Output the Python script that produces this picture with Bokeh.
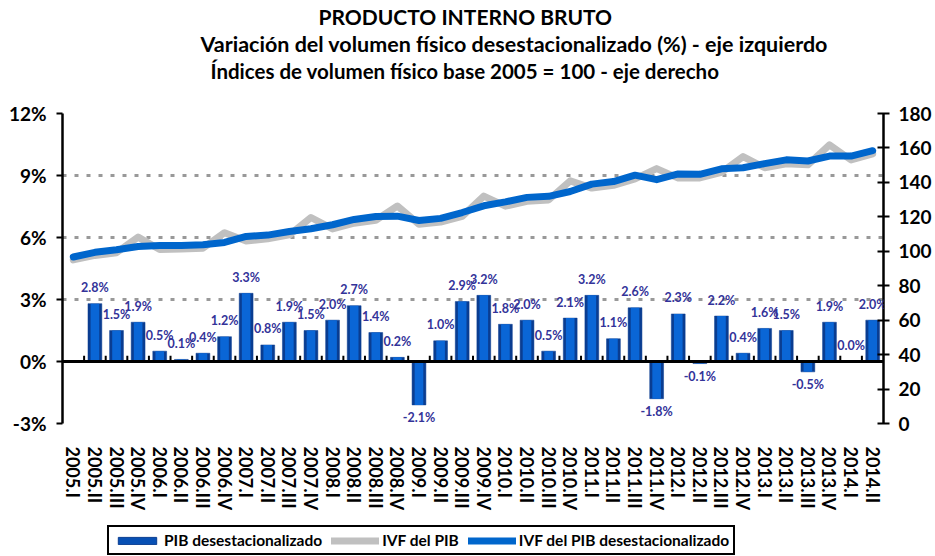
from bokeh.plotting import figure
from bokeh.layouts import column
from bokeh.models import (FactorRange, Range1d, LinearAxis, FixedTicker, PrintfTickFormatter,
                          Span, LabelSet, ColumnDataSource, Legend, LegendItem, Title)
from bokeh.core.properties import value
from bokeh.transform import dodge
from bokeh.embed import file_html
from bokeh.resources import INLINE

# ---------------- data ----------------
quarters = ["2005.I", "2005.II", "2005.III", "2005.IV",
            "2006.I", "2006.II", "2006.III", "2006.IV",
            "2007.I", "2007.II", "2007.III", "2007.IV",
            "2008.I", "2008.II", "2008.III", "2008.IV",
            "2009.I", "2009.II", "2009.III", "2009.IV",
            "2010.I", "2010.II", "2010.III", "2010.IV",
            "2011.I", "2011.II", "2011.III", "2011.IV",
            "2012.I", "2012.II", "2012.III", "2012.IV",
            "2013.I", "2013.II", "2013.III", "2013.IV",
            "2014.I", "2014.II"]

# quarter-on-quarter change of seasonally adjusted GDP (%), from 2005.II
var_quarters = quarters[1:]
pib_var = [2.8, 1.5, 1.9,
           0.5, 0.1, 0.4, 1.2,
           3.3, 0.8, 1.9, 1.5,
           2.0, 2.7, 1.4, 0.2,
           -2.1, 1.0, 2.9, 3.2,
           1.8, 2.0, 0.5, 2.1,
           3.2, 1.1, 2.6, -1.8,
           2.3, -0.1, 2.2, 0.4,
           1.6, 1.5, -0.5, 1.9,
           0.0, 2.0]

# IVF del PIB (original series, base 2005 = 100)
ivf = [95.0, 97.6, 99.2, 108.2,
       101.0, 101.3, 101.8, 110.8,
       106.0, 107.3, 109.5, 119.6,
       113.0, 116.3, 118.0, 126.3,
       115.7, 117.0, 120.3, 132.0,
       126.2, 129.0, 129.8, 140.9,
       136.7, 138.3, 142.0, 148.0,
       142.5, 142.6, 145.8, 155.0,
       148.5, 150.8, 150.2, 161.8,
       153.0, 156.6]

# IVF del PIB desestacionalizado
ivf_sa = [96.7, 99.4, 100.9, 102.8,
          103.3, 103.4, 103.8, 105.1,
          108.6, 109.4, 111.5, 113.1,
          115.4, 118.5, 120.2, 120.4,
          117.9, 119.1, 122.5, 126.4,
          128.7, 131.3, 131.9, 134.7,
          139.0, 140.5, 144.2, 141.6,
          144.9, 144.7, 147.9, 148.5,
          150.9, 153.1, 152.4, 155.3,
          155.3, 158.4]

left_ticks = [-3, 0, 3, 6, 9, 12]
right_ticks = [0, 20, 40, 60, 80, 100, 120, 140, 160, 180]

FONT = "Lato"
BAR_DARK = "#0a3d91"
BAR_LIGHT = "#0a66d6"
BAR_LEGEND = "#0850b4"
GREY = "#c0c0c0"
BLUE = "#0066cc"

# ---------------- main figure ----------------
p = figure(width=935, height=525,
           x_range=FactorRange(*quarters, range_padding=0),
           y_range=Range1d(-3, 12),
           output_backend="svg", toolbar_location=None,
           min_border_left=62, min_border_right=52, min_border_top=113,
           min_border_bottom=102)
p.outline_line_color = None
p.background_fill_color = "white"
p.border_fill_color = "white"

# titles (first added sits next to the frame, last added is outermost)
spacer = Title(text=" ", standoff=7, text_font=FONT, text_font_size="18px")
t3 = Title(text="Índices de volumen físico base 2005 = 100 - eje derecho", align="left",
           offset=148, standoff=0, text_font=FONT, text_font_size="20.5px",
           text_font_style="bold", text_color="black")
t2 = Title(text="Variación del volumen físico desestacionalizado (%) - eje izquierdo", align="left",
           offset=138, standoff=0, text_font=FONT, text_font_size="21.5px",
           text_font_style="bold", text_color="black")
t1 = Title(text="PRODUCTO INTERNO BRUTO", align="left",
           offset=256, standoff=0, text_font=FONT, text_font_size="21px",
           text_font_style="bold", text_color="black")
p.add_layout(spacer, "above")
p.add_layout(t3, "above")
p.add_layout(t2, "above")
p.add_layout(t1, "above")

# grid
p.xgrid.visible = False
p.ygrid.grid_line_color = "#999999"
p.ygrid.grid_line_width = 3
p.ygrid.grid_line_dash = "4 8"

# left axis
yax = p.yaxis[0]
yax.ticker = FixedTicker(ticks=left_ticks)
yax.formatter = PrintfTickFormatter(format="%d%%")
yax.axis_line_width = 2.5
yax.axis_line_color = "black"
yax.major_tick_out = 6
yax.major_tick_in = 0
yax.major_tick_line_width = 2
yax.minor_tick_line_color = None
yax.major_label_text_font = FONT
yax.major_label_text_font_size = "19px"
yax.major_label_text_font_style = "bold"
yax.major_label_text_color = "black"
yax.major_label_standoff = 10

# right axis
p.extra_y_ranges = {"idx": Range1d(0, 180)}
rax = LinearAxis(y_range_name="idx", ticker=FixedTicker(ticks=right_ticks))
rax.axis_line_width = 2.5
rax.axis_line_color = "black"
rax.major_tick_out = 6
rax.major_tick_in = 6
rax.major_tick_line_width = 2
rax.minor_tick_line_color = None
rax.major_label_text_font = FONT
rax.major_label_text_font_size = "19px"
rax.major_label_text_font_style = "bold"
rax.major_label_text_color = "black"
rax.major_label_standoff = 9
p.add_layout(rax, "right")

# category axis
xax = p.xaxis[0]
xax.axis_line_color = None
xax.major_tick_line_color = None
xax.minor_tick_line_color = None
xax.major_label_orientation = "vertical"
xax.major_label_text_font = FONT
xax.major_label_text_font_size = "18px"
xax.major_label_text_font_style = "bold"
xax.major_label_text_color = "black"
xax.major_label_standoff = 17

# bars
src = ColumnDataSource(dict(
    q=var_quarters, v=pib_var,
    lbl=[f"{v:.1f}%" for v in pib_var],
    off=[16 if v >= 0 else -13 for v in pib_var],
))
p.vbar(x="q", top="v", bottom=0, width=0.64, source=src,
       fill_color=BAR_DARK, line_color=BAR_DARK, line_width=0.5)
p.vbar(x="q", top="v", bottom=0, width=0.40, source=src,
       fill_color=BAR_LIGHT, line_color=None)

# zero line and category ticks on it
p.add_layout(Span(location=0, dimension="width", line_color="black", line_width=3))
tsrc = ColumnDataSource(dict(c=quarters[1:]))
p.segment(x0=dodge("c", -0.5, range=p.x_range), y0=0,
          x1=dodge("c", -0.5, range=p.x_range), y1=0.28,
          source=tsrc, line_color="black", line_width=2)

# lines
p.line(x=quarters, y=ivf, y_range_name="idx", line_color=GREY,
       line_width=7, line_join="round", line_cap="round")
p.line(x=quarters, y=ivf_sa, y_range_name="idx", line_color=BLUE,
       line_width=7, line_join="round", line_cap="round")

# data labels
labels = LabelSet(x="q", y="v", text="lbl", y_offset="off", source=src,
                  text_align="center", text_baseline="middle",
                  text_font=value(FONT), text_font_size=value("12.5px"),
                  text_font_style="bold", text_color="#333399")
p.add_layout(labels)

# ---------------- legend strip ----------------
# same series drawn again in a strip whose y-range keeps them out of view;
# only their legend glyphs are visible
p2 = figure(width=935, height=31, x_range=FactorRange(*quarters, range_padding=0),
            y_range=Range1d(1000, 1001),
            output_backend="svg", toolbar_location=None, min_border=0,
            x_axis_type=None, y_axis_type=None)
p2.outline_line_color = None
p2.background_fill_color = "white"
p2.border_fill_color = "white"
p2.xgrid.visible = False
p2.ygrid.visible = False
lg_bar = p2.vbar(x=var_quarters, top=pib_var, bottom=0, width=0.6,
                 fill_color=BAR_LEGEND, line_color=BAR_DARK)
lg_ivf = p2.line(x=quarters, y=ivf, line_color=GREY, line_width=7, line_cap="round")
lg_sa = p2.line(x=quarters, y=ivf_sa, line_color=BLUE, line_width=7, line_cap="round")

legend = Legend(items=[
    LegendItem(label="PIB desestacionalizado", renderers=[lg_bar]),
    LegendItem(label="IVF del PIB", renderers=[lg_ivf]),
    LegendItem(label="IVF del PIB desestacionalizado", renderers=[lg_sa]),
], orientation="horizontal", location=(45, 1))
legend.label_text_font = FONT
legend.label_text_font_size = "15.5px"
legend.label_text_font_style = "bold"
legend.label_text_color = "black"
legend.glyph_width = 48
legend.glyph_height = 9
legend.label_height = 14
legend.label_standoff = 3
legend.spacing = 9
legend.padding = 4
legend.margin = 0
legend.border_line_color = "black"
legend.border_line_alpha = 1
legend.border_line_width = 2
legend.background_fill_alpha = 1
p2.add_layout(legend)

layout = column(p, p2, spacing=0)
open("out.html", "w").write(file_html(layout, INLINE))
